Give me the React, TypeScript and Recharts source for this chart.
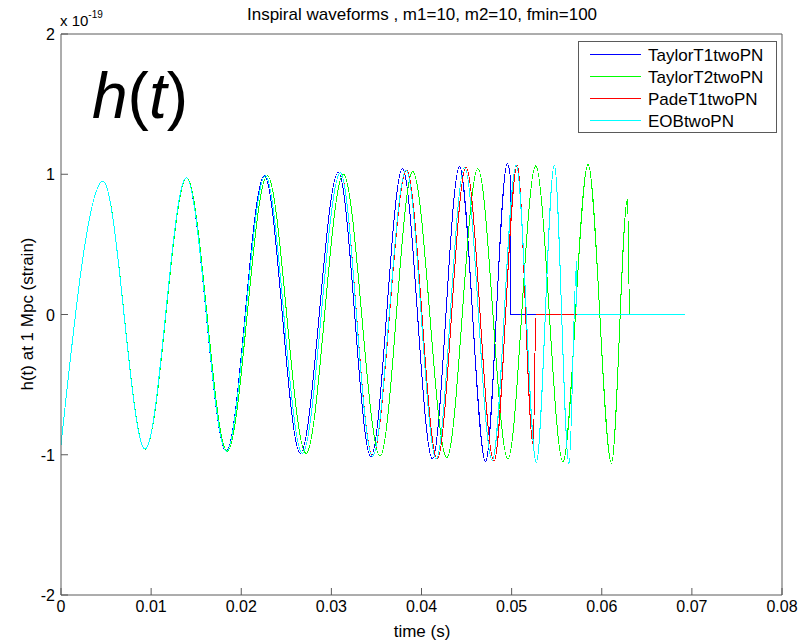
import { LineChart, Line, XAxis, YAxis } from "recharts";

const xTicks = [0, 0.01, 0.02, 0.03, 0.04, 0.05, 0.06, 0.07, 0.08];
const yTicks = [-2, -1, 0, 1, 2];

// strain in units of 1e-19, time in seconds
const taylorT1Time = [0, 0.00467, 0.00933, 0.0139, 0.01833, 0.02256, 0.02656, 0.03078, 0.03439, 0.03789, 0.04122, 0.04422, 0.04711, 0.04952, 0.04982, 0.04985, 0.0692];
const taylorT1Strain = [-0.93, 0.95, -0.96, 0.975, -0.975, 0.99, -0.99, 1.015, -1.015, 1.04, -1.03, 1.055, -1.05, 1.075, 1.0, 0, 0];

const taylorT2Time = [0, 0.00467, 0.00935, 0.01395, 0.01845, 0.02289, 0.02719, 0.03133, 0.03541, 0.03903, 0.04281, 0.04626, 0.04959, 0.05267, 0.0557, 0.05848, 0.06108, 0.06286, 0.0631, 0.0692];
const taylorT2Strain = [-0.93, 0.95, -0.96, 0.975, -0.975, 0.99, -0.99, 1.0, -1.01, 1.02, -1.02, 1.04, -1.03, 1.06, -1.05, 1.07, -1.06, 0.82, 0, 0];

const padeT1Time = [0, 0.00467, 0.00933, 0.0139, 0.01835, 0.02267, 0.02678, 0.031, 0.03458, 0.03835, 0.04175, 0.04495, 0.04805, 0.05063, 0.0524, 0.0527, 0.0692];
const padeT1Strain = [-0.93, 0.95, -0.96, 0.975, -0.975, 0.99, -0.99, 1.01, -1.01, 1.03, -1.03, 1.05, -1.045, 1.065, -0.93, 0, 0];

const eobTime = [0, 0.00467, 0.00933, 0.0139, 0.01835, 0.02267, 0.02678, 0.031, 0.03456, 0.0383, 0.04163, 0.04478, 0.04786, 0.05052, 0.05274, 0.05474, 0.05637, 0.05722, 0.05725, 0.0692];
const eobStrain = [-0.93, 0.95, -0.96, 0.975, -0.975, 0.99, -0.99, 1.01, -1.01, 1.03, -1.03, 1.05, -1.04, 1.065, -1.055, 1.065, -1.07, 0.38, 0, 0];

const seriesNames = ["TaylorT1twoPN", "TaylorT2twoPN", "PadeT1twoPN", "EOBtwoPN"];
const seriesColors = ["#0000ff", "#00ff00", "#ff0000", "#00ffff"];

const zip = (t: number[], h: number[]) => t.map((v, i) => ({ t: v, h: h[i] }));
const seriesData = [
  zip(taylorT1Time, taylorT1Strain),
  zip(taylorT2Time, taylorT2Strain),
  zip(padeT1Time, padeT1Strain),
  zip(eobTime, eobStrain),
];

const AXIS = "#5a5a5a";
const FONT = "'Liberation Sans', Arial, sans-serif";
const TICK = 7;

// axes need a non-zero size to be drawn, so each one is 1px thick
const BottomTick = ({ x, y, payload }: any) => (
  <g>
    <line x1={x} x2={x} y1={y} y2={y - TICK} stroke={AXIS} />
    <text x={x} y={y + 17} textAnchor="middle" fontSize={16} fill="#000" fontFamily={FONT}>
      {String(payload.value)}
    </text>
  </g>
);

const TopTick = ({ x, y }: any) => <line x1={x} x2={x} y1={y} y2={y + TICK} stroke={AXIS} />;

const LeftTick = ({ x, y, payload }: any) => (
  <g>
    <line x1={x} x2={x + TICK} y1={y} y2={y} stroke={AXIS} />
    <text x={x - 6} y={y + 6} textAnchor="end" fontSize={16} fill="#000" fontFamily={FONT}>
      {String(payload.value)}
    </text>
  </g>
);

const RightTick = ({ x, y }: any) => <line x1={x} x2={x - TICK} y1={y} y2={y} stroke={AXIS} />;

export default function App() {
  return (
    <div style={{ position: "absolute", left: 0, top: 0, width: 802, height: 642, background: "#fff" }}>
      <LineChart width={802} height={642} margin={{ top: 33, right: 19, bottom: 46, left: 60 }}>
        <XAxis
          dataKey="t"
          type="number"
          domain={[0, 0.08]}
          ticks={xTicks}
          interval={0}
          height={1}
          tickSize={0}
          tickMargin={0}
          tickLine={false}
          axisLine={{ stroke: AXIS }}
          tick={<BottomTick />}
          allowDataOverflow
        />
        <XAxis
          xAxisId="top"
          orientation="top"
          type="number"
          domain={[0, 0.08]}
          ticks={xTicks}
          interval={0}
          height={1}
          tickSize={0}
          tickMargin={0}
          tickLine={false}
          axisLine={{ stroke: AXIS }}
          tick={<TopTick />}
        />
        <YAxis
          type="number"
          domain={[-2, 2]}
          ticks={yTicks}
          interval={0}
          width={1}
          tickSize={0}
          tickMargin={0}
          tickLine={false}
          axisLine={{ stroke: AXIS }}
          tick={<LeftTick />}
          allowDataOverflow
        />
        <YAxis
          yAxisId="right"
          orientation="right"
          type="number"
          domain={[-2, 2]}
          ticks={yTicks}
          interval={0}
          width={1}
          tickSize={0}
          tickMargin={0}
          tickLine={false}
          axisLine={{ stroke: AXIS }}
          tick={<RightTick />}
        />
        {seriesData.map((d, i) => (
          <Line
            key={seriesNames[i]}
            data={d}
            dataKey="h"
            name={seriesNames[i]}
            type="monotone"
            stroke={seriesColors[i]}
            strokeWidth={1}
            shapeRendering="crispEdges"
            dot={false}
            activeDot={false}
            isAnimationActive={false}
          />
        ))}
      </LineChart>
      <svg
        width={802}
        height={642}
        style={{ position: "absolute", left: 0, top: 0, pointerEvents: "none" }}
        fontFamily={FONT}
      >
        <text x={422} y={20} textAnchor="middle" fontSize={17} fill="#000">
          Inspiral waveforms , m1=10, m2=10, fmin=100
        </text>
        <text x={60} y={26} fontSize={15} fill="#000">
          x 10
          <tspan dy={-8} fontSize={10}>-19</tspan>
        </text>
        <text x={92} y={118} fontSize={64} fill="#000">
          <tspan fontStyle="italic">h</tspan>(<tspan fontStyle="italic">t</tspan>)
        </text>
        <text x={422} y={637} textAnchor="middle" fontSize={17} fill="#000">
          time (s)
        </text>
        <text
          x={0}
          y={0}
          transform="translate(33,314) rotate(-90)"
          textAnchor="middle"
          fontSize={17}
          fill="#000"
        >
          h(t) at 1 Mpc (strain)
        </text>
        <rect x={578.5} y={41.5} width={198} height={91} fill="#fff" stroke={AXIS} />
        {seriesNames.map((n, i) => {
          const rowY = 54.5 + i * 22;
          return (
            <g key={n}>
              <line x1={590} x2={641} y1={rowY} y2={rowY} stroke={seriesColors[i]} />
              <text x={648} y={rowY + 6} fontSize={17} fill="#000">
                {n}
              </text>
            </g>
          );
        })}
      </svg>
    </div>
  );
}
